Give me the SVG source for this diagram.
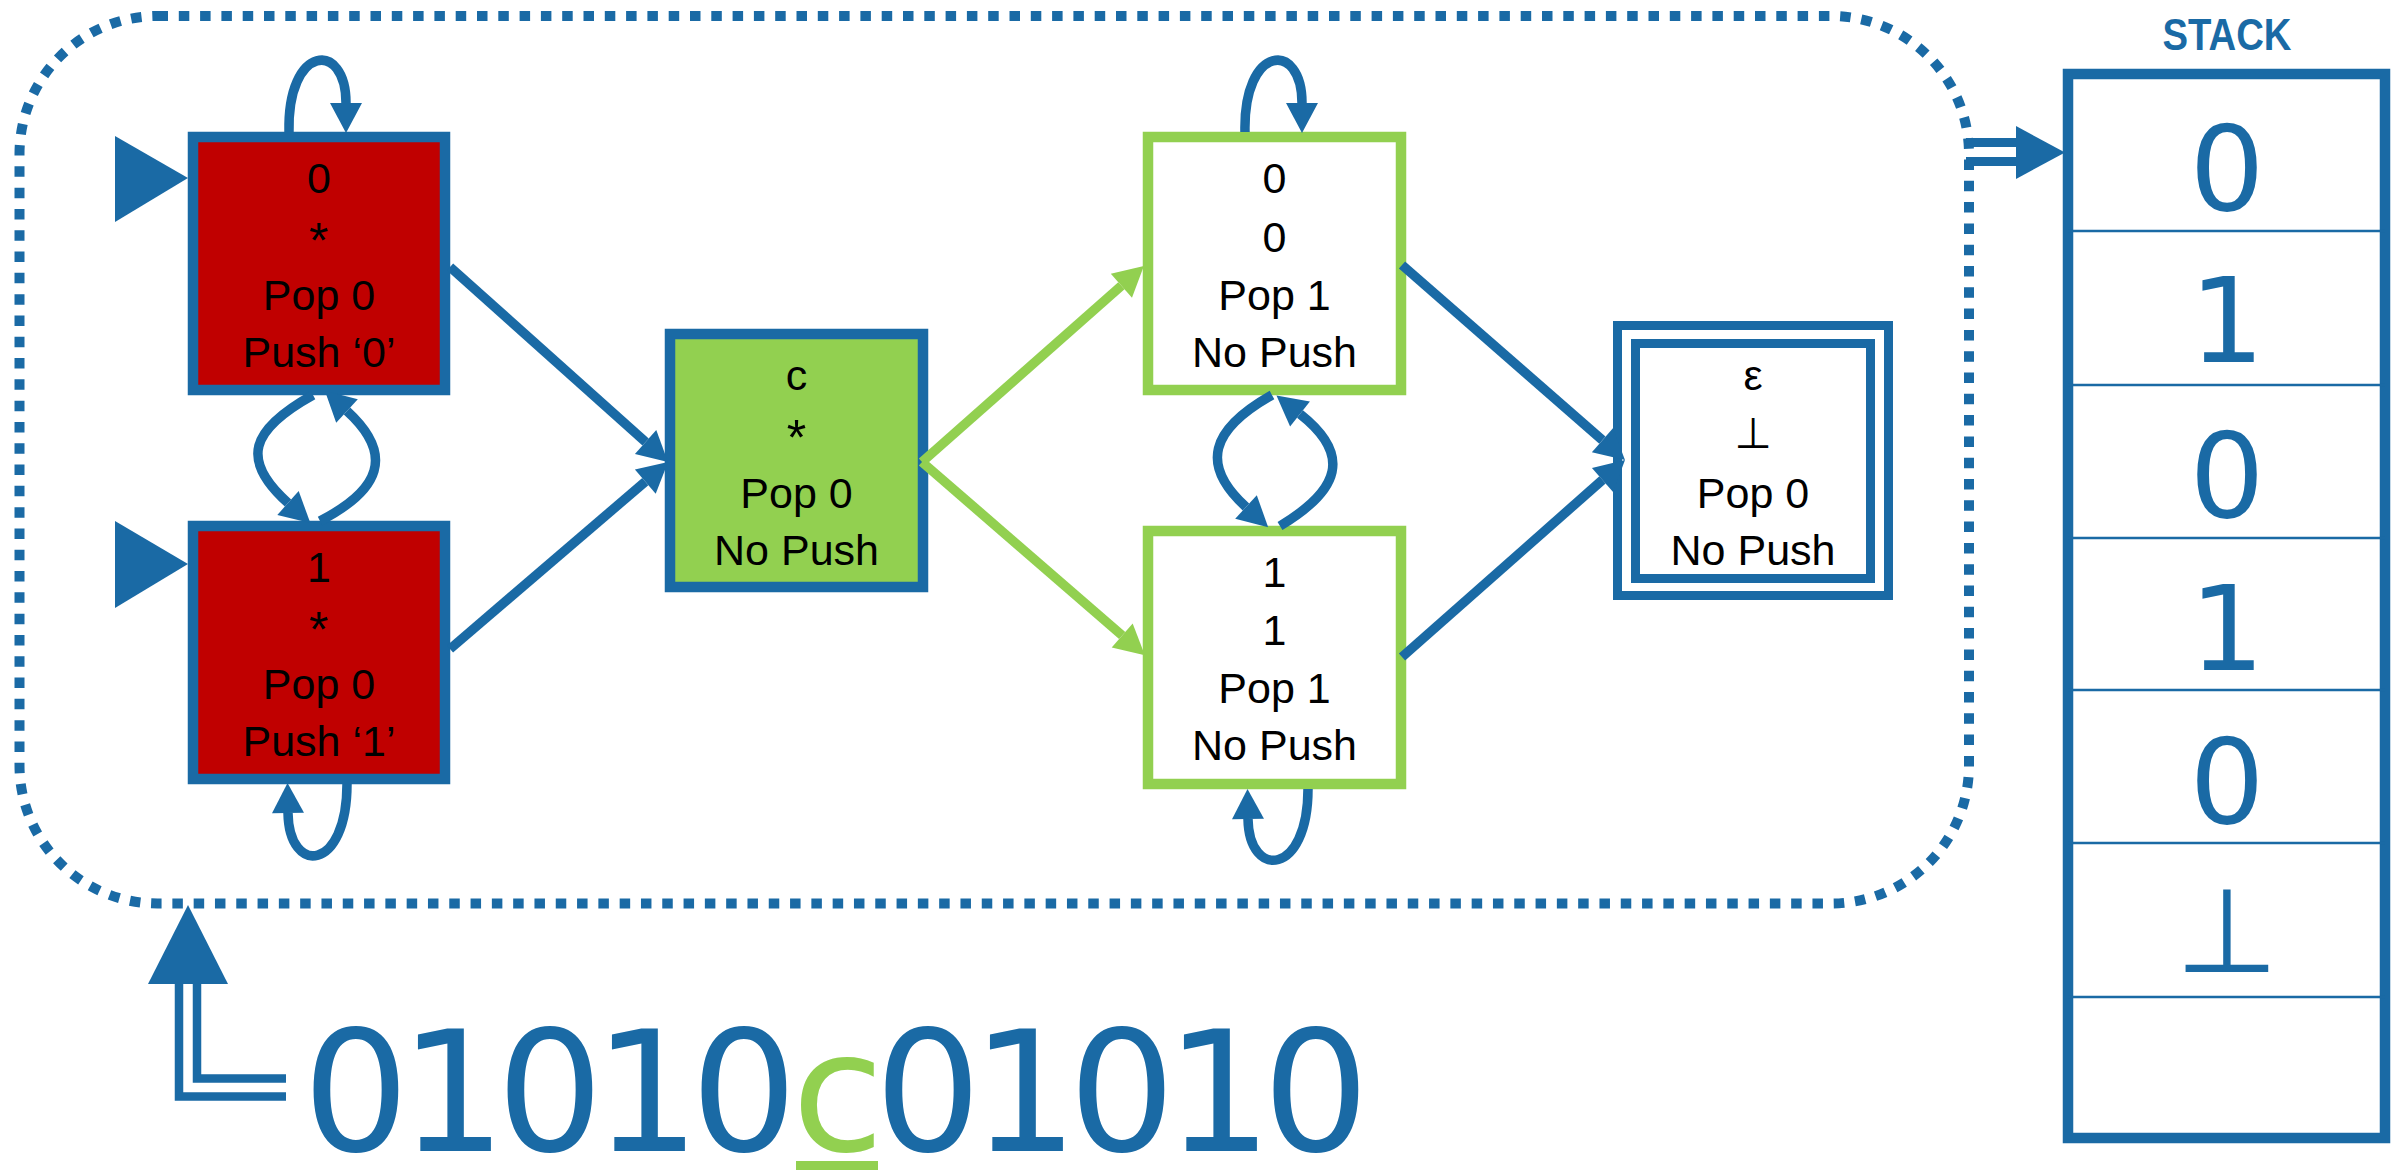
<svg xmlns="http://www.w3.org/2000/svg" width="2402" height="1171" viewBox="0 0 2402 1171">
<defs>
<style>
.lbl{font-family:"Liberation Sans","DejaVu Sans",Arial,sans-serif;font-size:43px;fill:#000;text-anchor:middle}
.ast{font-size:50px}
.conn{fill:none;stroke-width:9.5}
.b{stroke:#1A6AA5}
.g{stroke:#92D050}
.stk{font-family:"DejaVu Sans",sans-serif;font-size:118px;fill:#1A6AA5;text-anchor:middle}
.big{font-family:"DejaVu Sans",sans-serif;font-size:168px;fill:#1A6AA5;text-anchor:middle}
.blue{fill:#1A6AA5}
</style>
<marker id="ahB" viewBox="0 -16 30 32" refX="0" refY="0" markerWidth="30" markerHeight="32" markerUnits="userSpaceOnUse" orient="auto" overflow="visible"><path d="M0,-16 L30,0 L0,16 z" fill="#1A6AA5"/></marker>
<marker id="ahG" viewBox="0 -16 30 32" refX="0" refY="0" markerWidth="30" markerHeight="32" markerUnits="userSpaceOnUse" orient="auto" overflow="visible"><path d="M0,-16 L30,0 L0,16 z" fill="#92D050"/></marker>
</defs>
<rect width="2402" height="1171" fill="#fff"/>

<g id="machine-border">
<rect x="19.5" y="16" width="1949.5" height="887.5" rx="138" fill="none" stroke="#1A6AA5" stroke-width="10" stroke-dasharray="10.5 10.8"/>
</g>

<g id="start-markers">
<polygon class="blue" points="115,136 188,178 115,222"/>
<polygon class="blue" points="115,521 188,564 115,608"/>
</g>

<g id="node-q0">
<rect x="193" y="137" width="252" height="253" fill="#C00000" stroke="#1A6AA5" stroke-width="10.5"/>
<text class="lbl" x="319" y="193">0</text>
<text class="lbl ast" x="319" y="258">*</text>
<text class="lbl" x="319" y="310">Pop 0</text>
<text class="lbl" x="319" y="367">Push ‘0’</text>
</g>

<g id="node-q1">
<rect x="193" y="526" width="252" height="253" fill="#C00000" stroke="#1A6AA5" stroke-width="10.5"/>
<text class="lbl" x="319" y="582">1</text>
<text class="lbl ast" x="319" y="647">*</text>
<text class="lbl" x="319" y="699">Pop 0</text>
<text class="lbl" x="319" y="756">Push ‘1’</text>
</g>

<g id="node-c">
<rect x="670" y="334" width="253" height="253" fill="#92D050" stroke="#1A6AA5" stroke-width="10.5"/>
<text class="lbl" x="796.5" y="390">c</text>
<text class="lbl ast" x="796.5" y="455">*</text>
<text class="lbl" x="796.5" y="508">Pop 0</text>
<text class="lbl" x="796.5" y="565">No Push</text>
</g>

<g id="node-p0">
<rect x="1148" y="137" width="253" height="253" fill="#fff" stroke="#92D050" stroke-width="10.5"/>
<text class="lbl" x="1274.5" y="193">0</text>
<text class="lbl" x="1274.5" y="252">0</text>
<text class="lbl" x="1274.5" y="310">Pop 1</text>
<text class="lbl" x="1274.5" y="367">No Push</text>
</g>

<g id="node-p1">
<rect x="1148" y="531" width="253" height="253" fill="#fff" stroke="#92D050" stroke-width="10.5"/>
<text class="lbl" x="1274.5" y="587">1</text>
<text class="lbl" x="1274.5" y="645">1</text>
<text class="lbl" x="1274.5" y="703">Pop 1</text>
<text class="lbl" x="1274.5" y="760">No Push</text>
</g>

<g id="node-accept">
<rect x="1617.5" y="325.5" width="271" height="270" fill="#fff" stroke="#1A6AA5" stroke-width="9"/>
<rect x="1635.5" y="343.5" width="235" height="235" fill="#fff" stroke="#1A6AA5" stroke-width="9"/>
<text class="lbl" x="1753" y="390">ε</text>
<text class="lbl" x="1753" y="448">⊥</text>
<text class="lbl" x="1753" y="508">Pop 0</text>
<text class="lbl" x="1753" y="565">No Push</text>
</g>

<g id="stack">
<text x="2227" y="50" font-family="Liberation Sans, Arial, sans-serif" font-size="44" font-weight="bold" fill="#1A6AA5" text-anchor="middle" textLength="129" lengthAdjust="spacingAndGlyphs">STACK</text>
<rect x="2068" y="74" width="317" height="1064" fill="#fff" stroke="#1A6AA5" stroke-width="10.5"/>
<g stroke="#1A6AA5" stroke-width="2.5">
<line x1="2068" y1="231" x2="2385" y2="231"/>
<line x1="2068" y1="385" x2="2385" y2="385"/>
<line x1="2068" y1="538" x2="2385" y2="538"/>
<line x1="2068" y1="690" x2="2385" y2="690"/>
<line x1="2068" y1="843" x2="2385" y2="843"/>
<line x1="2068" y1="997" x2="2385" y2="997"/>
</g>
<text class="stk" x="2227" y="210">0</text>
<text class="stk" x="2227" y="362">1</text>
<text class="stk" x="2227" y="517">0</text>
<text class="stk" x="2227" y="670">1</text>
<text class="stk" x="2227" y="823">0</text>
<text class="stk" x="2227" y="972">⊥</text>
</g>

<g id="input-string">
<text class="big" y="1151"><tspan x="356">0</tspan><tspan x="453">1</tspan><tspan x="550">0</tspan><tspan x="647">1</tspan><tspan x="744">0</tspan><tspan x="838" fill="#92D050">c</tspan><tspan x="928">0</tspan><tspan x="1025">1</tspan><tspan x="1122">0</tspan><tspan x="1219">1</tspan><tspan x="1316">0</tspan></text>
<rect x="796" y="1161" width="82" height="9" fill="#92D050"/>
</g>

<g id="connectors">
<path class="conn b" d="M289,132 C287,44 346,40 346,103" marker-end="url(#ahB)"/>
<path class="conn b" d="M1245,132 C1243,44 1302,40 1302,103" marker-end="url(#ahB)"/>
<path class="conn b" d="M347,784 C347,872 289,876 288,813" marker-end="url(#ahB)"/>
<path class="conn b" d="M1308,789 C1308,876 1249,880 1248,819" marker-end="url(#ahB)"/>
<path class="conn b" d="M313,395 C250,430 240,460 288,503" marker-end="url(#ahB)"/>
<path class="conn b" d="M320,521 C380,490 395,455 347,411" marker-end="url(#ahB)"/>
<path class="conn b" d="M1272,395 C1210,430 1200,465 1246,507" marker-end="url(#ahB)"/>
<path class="conn b" d="M1280,526 C1340,490 1352,455 1300,414" marker-end="url(#ahB)"/>
<path class="conn b" d="M450,267 L645.6,442" marker-end="url(#ahB)"/>
<path class="conn b" d="M450,649 L645.3,481.6" marker-end="url(#ahB)"/>
<path class="conn g" d="M922,462 L1121.4,285.8" marker-end="url(#ahG)"/>
<path class="conn g" d="M922,462 L1122.2,635.5" marker-end="url(#ahG)"/>
<path class="conn b" d="M1402,265 L1602.4,440.2" marker-end="url(#ahB)"/>
<path class="conn b" d="M1402,657 L1602.5,479.9" marker-end="url(#ahB)"/>
<path d="M179,984 V1096.5 H286" fill="none" stroke="#1A6AA5" stroke-width="8.5"/>
<path d="M197,984 V1078.5 H286" fill="none" stroke="#1A6AA5" stroke-width="8.5"/>
<polygon class="blue" points="148,984 188,905 228,984"/>
<line x1="1966" y1="142.5" x2="2018" y2="142.5" stroke="#1A6AA5" stroke-width="9"/>
<line x1="1966" y1="161.5" x2="2018" y2="161.5" stroke="#1A6AA5" stroke-width="9"/>
<polygon class="blue" points="2016,126 2065,152.5 2016,179"/>
</g>
</svg>
